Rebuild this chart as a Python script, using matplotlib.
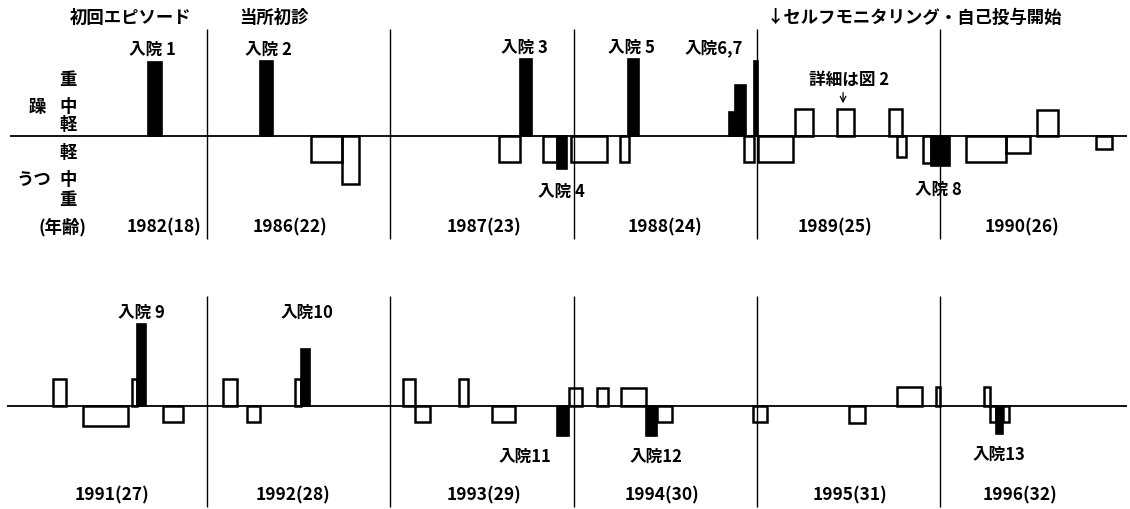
import matplotlib
matplotlib.use("Agg")
import matplotlib.pyplot as plt
from matplotlib.patches import Rectangle

plt.rcParams["font.family"] = ["Noto Sans CJK JP", "DejaVu Sans"]
plt.rcParams["font.weight"] = "bold"

# years shown in each row (the chart skips 1983-85)
TOP_YEARS = [1982, 1986, 1987, 1988, 1989, 1990]
BOT_YEARS = [1991, 1992, 1993, 1994, 1995, 1996]
TOP_AGES = [18, 22, 23, 24, 25, 26]
BOT_AGES = [27, 28, 29, 30, 31, 32]

# episodes: year, start month, end month (may run past 12), severity (+ mania / - depression), hospitalised
TOP_EP_YEAR = [1982, 1986, 1986, 1986, 1987, 1987, 1987, 1987, 1987,
               1988, 1988, 1988, 1988, 1988, 1988,
               1989, 1989, 1989, 1989, 1989, 1989, 1989,
               1990, 1990, 1990, 1990]
TOP_EP_START = [8.15, 3.47, 6.79, 8.82, 7.09, 8.46, 9.97, 10.91, 11.83,
                3.03, 3.55, 10.20, 10.57, 11.15, 11.80,
                0.10, 2.49, 5.22, 8.64, 9.18, 10.88, 11.37,
                1.70, 4.32, 6.33, 10.21]
TOP_EP_END = [9.03, 4.30, 8.82, 9.97, 8.46, 9.27, 10.91, 11.60, 14.20,
              3.62, 4.27, 10.57, 11.29, 11.80, 12.05,
              2.34, 3.68, 6.35, 9.47, 9.79, 11.37, 12.61,
              4.32, 5.89, 7.68, 11.24]
TOP_EP_LEVEL = [2.95, 3.0, -1.05, -1.9, -1.05, 3.08, -1.05, -1.3, -1.05,
                -1.05, 3.08, 0.97, 2.04, -1.05, 3.0,
                -1.05, 1.08, 1.08, 1.08, -0.85, -1.08, -1.2,
                -1.05, -0.68, 1.04, -0.52]
TOP_EP_HOSP = [1, 1, 0, 0, 0, 1, 0, 1, 0,
               0, 1, 1, 1, 0, 1,
               0, 0, 0, 0, 0, 0, 1,
               0, 0, 0, 0]

BOT_EP_YEAR = [1991, 1991, 1991, 1991, 1991,
               1992, 1992, 1992, 1992,
               1993, 1993, 1993, 1993, 1993, 1993,
               1994, 1994, 1994, 1994, 1994,
               1995, 1995, 1995,
               1996, 1996, 1996, 1996]
BOT_EP_START = [1.94, 3.86, 7.07, 7.40, 9.14,
                1.07, 2.60, 5.76, 6.15,
                0.83, 1.59, 4.52, 6.65, 10.91, 11.67,
                1.51, 3.08, 4.76, 5.48, 11.73,
                6.04, 9.14, 11.72,
                2.90, 3.27, 3.66, 4.14]
BOT_EP_END = [2.77, 6.85, 7.40, 7.98, 10.45,
              1.98, 3.47, 6.15, 6.74,
              1.59, 2.62, 5.06, 8.18, 11.67, 12.57,
              2.27, 4.76, 5.48, 6.42, 12.67,
              7.07, 10.78, 12.0,
              3.27, 3.66, 4.14, 4.53]
BOT_EP_LEVEL = [1.08, -0.8, 1.08, 3.28, -0.65,
                1.08, -0.65, 1.1, 2.28,
                1.1, -0.63, 1.08, -0.63, -1.2, 0.71,
                0.71, 0.71, -1.2, -0.65, -0.63,
                -0.68, 0.75, 0.75,
                0.75, -0.63, -1.12, -0.63]
BOT_EP_HOSP = [0, 0, 0, 1, 0,
               0, 0, 0, 1,
               0, 0, 0, 0, 1, 0,
               0, 0, 1, 0, 0,
               0, 0, 0,
               0, 0, 1, 0]

# hospitalisation labels: text, x (years from row start), y (severity units)
TOP_HOSP_TXT = ["入院 1", "入院 2", "入院 3", "入院 4", "入院 5", "入院6,7", "入院 8"]
TOP_HOSP_X = [0.70, 1.333, 2.729, 2.931, 3.313, 3.766, 4.988]
TOP_HOSP_Y = [3.48, 3.48, 3.56, -2.2, 3.56, 3.56, -2.12]
BOT_HOSP_TXT = ["入院 9", "入院10", "入院11", "入院12", "入院13"]
BOT_HOSP_X = [0.64, 1.546, 2.735, 3.45, 5.32]
BOT_HOSP_Y = [3.76, 3.76, -2.0, -2.0, -1.92]

TOP_YEAR_LBL_X = [0.766, 1.453, 2.511, 3.499, 4.426, 5.446]
BOT_YEAR_LBL_X = [0.484, 1.469, 2.511, 3.483, 4.508, 5.436]

# layout of the page in pixels (one year = YEAR_PX, one severity step = LEVEL_PX)
W, H = 1130, 510
X0_PX, YEAR_PX, LEVEL_PX = 23.7, 183.3, 25.0

fig = plt.figure(figsize=(W / 100, H / 100), dpi=100)
ax_top = fig.add_axes([0, 0.5, 1, 0.5])
ax_bot = fig.add_axes([0, 0, 1, 0.5])

xlim = (-X0_PX / YEAR_PX, (W - X0_PX) / YEAR_PX)
ax_top.set_xlim(*xlim)
ax_bot.set_xlim(*xlim)
ax_top.set_ylim((137 - 255) / LEVEL_PX, 137 / LEVEL_PX)
ax_bot.set_ylim((407 - 510) / LEVEL_PX, (407 - 255) / LEVEL_PX)

FS = 12.5      # notes and year labels
FS_H = 12      # hospitalisation labels


def draw_row(ax, years, ep_year, ep_start, ep_end, ep_level, ep_hosp,
             base_x0, sep_lo, sep_hi):
    ax.axis("off")
    ax.hlines(0, base_x0, 6.02, color="black", lw=1.3, zorder=2)
    ax.vlines(range(1, len(years)), sep_lo, sep_hi, color="black", lw=1.0, zorder=1)
    for yr, s, e, lev, hosp in zip(ep_year, ep_start, ep_end, ep_level, ep_hosp):
        x = years.index(yr) + s / 12
        w = (e - s) / 12
        if hosp:
            ax.add_patch(Rectangle((x, 0), w, lev, facecolor="black",
                                   edgecolor="black", lw=1.2, zorder=4))
        else:
            ax.add_patch(Rectangle((x, 0), w, lev, facecolor="none",
                                   edgecolor="black", lw=1.8, zorder=3))


draw_row(ax_top, TOP_YEARS, TOP_EP_YEAR, TOP_EP_START, TOP_EP_END,
         TOP_EP_LEVEL, TOP_EP_HOSP, -0.075, -4.12, 4.28)
draw_row(ax_bot, BOT_YEARS, BOT_EP_YEAR, BOT_EP_START, BOT_EP_END,
         BOT_EP_LEVEL, BOT_EP_HOSP, -0.09, -4.04, 4.4)

for t, x, y in zip(TOP_HOSP_TXT, TOP_HOSP_X, TOP_HOSP_Y):
    ax_top.text(x, y, t, fontsize=FS_H, ha="center", va="center")
for t, x, y in zip(BOT_HOSP_TXT, BOT_HOSP_X, BOT_HOSP_Y):
    ax_bot.text(x, y, t, fontsize=FS_H, ha="center", va="center")

for yr, age, x in zip(TOP_YEARS, TOP_AGES, TOP_YEAR_LBL_X):
    ax_top.text(x, -3.6, f"{yr}({age})", fontsize=FS, ha="center", va="center")
for yr, age, x in zip(BOT_YEARS, BOT_AGES, BOT_YEAR_LBL_X):
    ax_bot.text(x, -3.52, f"{yr}({age})", fontsize=FS, ha="center", va="center")

# top-row notes
ax_top.text(0.585, 4.76, "初回エピソード", fontsize=FS, ha="center", va="center")
ax_top.text(1.366, 4.76, "当所初診", fontsize=FS, ha="center", va="center")
ax_top.text(4.05, 4.76, "↓セルフモニタリング・自己投与開始", fontsize=FS,
            ha="left", va="center")
ax_top.text(4.503, 2.28, "詳細は図 2", fontsize=FS_H, ha="center", va="center")
ax_top.annotate("", xy=(4.47, 1.2), xytext=(4.47, 1.85),
                arrowprops=dict(arrowstyle="->", lw=0.9, color="black"))

# severity scale at the left
ax_top.text(0.214, -3.6, "(年齢)", fontsize=FS, ha="center", va="center")
ax_top.text(0.073, 1.2, "躁", fontsize=FS, ha="center", va="center")
ax_top.text(0.056, -1.72, "うつ", fontsize=FS, ha="center", va="center")
for lbl, y in zip(["重", "中", "軽", "軽", "中", "重"],
                  [2.28, 1.2, 0.48, -0.64, -1.72, -2.52]):
    ax_top.text(0.242, y, lbl, fontsize=FS, ha="center", va="center")

fig.savefig("out.png", dpi=100)
